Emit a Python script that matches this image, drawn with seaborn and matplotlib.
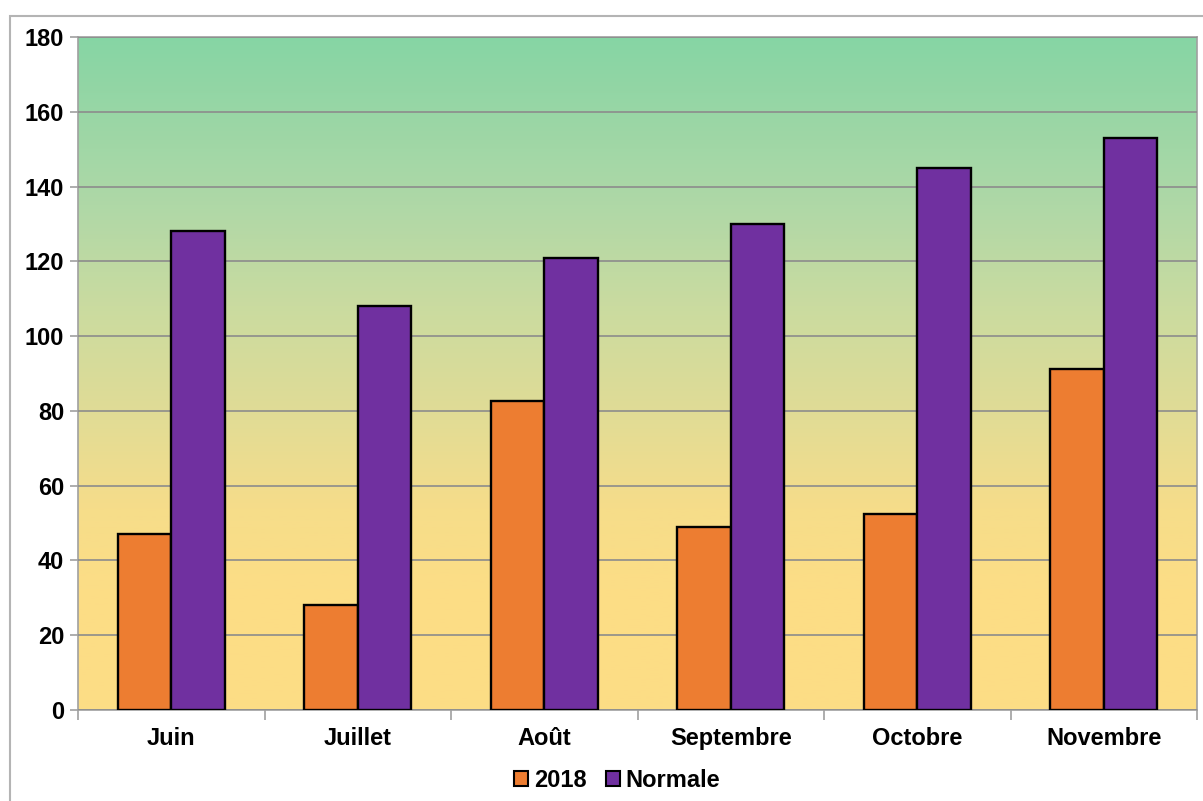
import matplotlib
matplotlib.use("Agg")
import matplotlib.pyplot as plt
import matplotlib.patches as mpatches
from matplotlib.colors import LinearSegmentedColormap
import numpy as np
import pandas as pd
import seaborn as sns

# Monthly values
months = ["Juin", "Juillet", "Août", "Septembre", "Octobre", "Novembre"]
values_2018 = [47, 28, 82.7, 49, 52.4, 91.3]
values_normale = [128, 108, 121, 130, 145, 153]
series_names = ["2018", "Normale"]
series_colors = ["#ED7D31", "#7030A0"]
y_ticks = [0, 20, 40, 60, 80, 100, 120, 140, 160, 180]

df = pd.DataFrame({
    "Mois": months * 2,
    "Valeur": values_2018 + values_normale,
    "Serie": [series_names[0]] * len(months) + [series_names[1]] * len(months),
})

sns.set_theme(style="white")
plt.rcParams["font.family"] = ["Liberation Sans", "DejaVu Sans"]
plt.rcParams["font.weight"] = "bold"
plt.rcParams["text.color"] = "black"

W, H = 1203, 801
fig = plt.figure(figsize=(W / 100, H / 100), dpi=100)
fig.patch.set_facecolor("white")

# outer chart frame
frame = mpatches.Rectangle((10 / W, -0.1), 1.2, (H - 16) / H + 0.1,
                           transform=fig.transFigure, fill=False,
                           edgecolor="#B4B4B4", linewidth=1.5, zorder=0)
fig.patches.append(frame)

left, right, top, bottom = 78, 1197, 37, 710
ax = fig.add_axes([left / W, 1 - bottom / H, (right - left) / W, (bottom - top) / H])

# vertical background gradient (top green -> bottom yellow)
grad_cmap = LinearSegmentedColormap.from_list("bg", [
    (0.0, "#86D5A4"),
    (0.25, "#AFD8A7"),
    (0.40, "#CADBA0"),
    (0.57, "#E2DC95"),
    (0.70, "#F6DD8A"),
    (0.82, "#FCDD86"),
    (1.0, "#FDDD85"),
])
grad = np.linspace(0, 1, 256).reshape(-1, 1)
ax.imshow(grad, cmap=grad_cmap, aspect="auto", extent=[-0.5, 5.5, 0, 180],
          origin="upper", zorder=0, interpolation="bilinear")

sns.barplot(data=df, x="Mois", y="Valeur", hue="Serie", palette=series_colors,
            width=0.575, edgecolor="black", linewidth=1.7, saturation=1,
            dodge=True, ax=ax, zorder=3)

ax.set_xlim(-0.5, 5.5)
ax.set_ylim(0, 180)
ax.set_yticks(y_ticks)
ax.set_yticklabels([str(t) for t in y_ticks], fontsize=17, fontweight="bold")
ax.set_xticks(range(len(months)))
ax.set_xticklabels(months, fontsize=17, fontweight="bold")
ax.set_xlabel("")
ax.set_ylabel("")

ax.yaxis.grid(True, color="#8C8C8C", linewidth=1.2, zorder=1)
ax.set_axisbelow(False)
for gl in ax.get_ygridlines():
    gl.set_zorder(1)
ax.xaxis.grid(False)

for side in ["top", "right", "left", "bottom"]:
    ax.spines[side].set_color("#A0A0A0")
    ax.spines[side].set_linewidth(1.2)

# y ticks on left, x ticks at category boundaries
ax.tick_params(axis="y", which="major", length=6, width=1.2, color="#A0A0A0",
               left=True, pad=4, labelcolor="black")
ax.tick_params(axis="x", which="major", length=0, pad=12, labelcolor="black")
ax.set_xticks(np.arange(-0.5, 6.0, 1.0), minor=True)
ax.tick_params(axis="x", which="minor", length=7, width=1.2, color="#A0A0A0",
               bottom=True)

leg = ax.legend(handles=[mpatches.Patch(facecolor=c, edgecolor="black", linewidth=1.5)
                         for c in series_colors],
                labels=series_names, loc="upper center",
                bbox_to_anchor=(0.482, -0.056), ncol=2, frameon=False,
                prop={"size": 17, "weight": "bold"}, handlelength=0.6,
                handleheight=0.6, handletextpad=0.25, columnspacing=0.8,
                labelcolor="black")

fig.savefig("out.png", dpi=100, facecolor="white")
